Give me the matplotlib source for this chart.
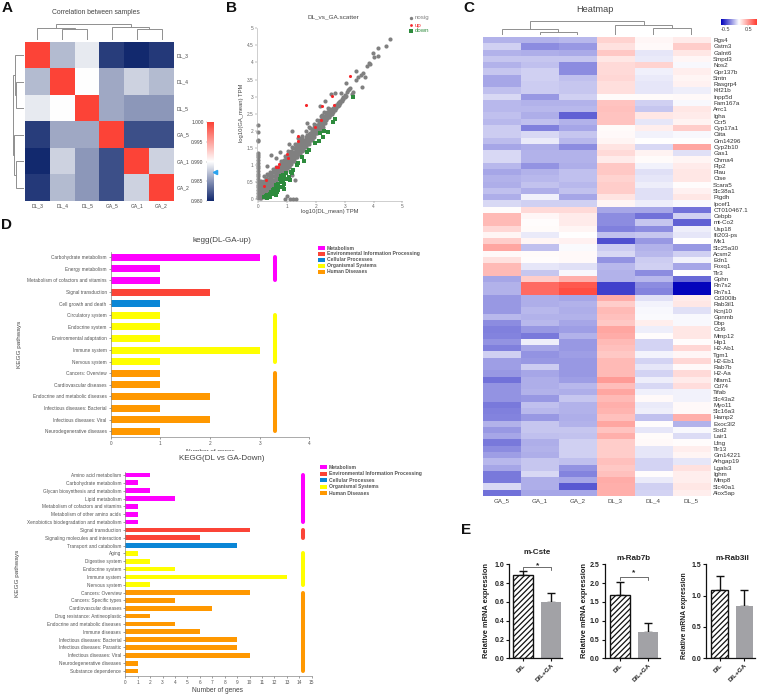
import numpy as np
import matplotlib
matplotlib.use('Agg')
import matplotlib.pyplot as plt
from matplotlib.colors import LinearSegmentedColormap, TwoSlopeNorm
from matplotlib.patches import Rectangle

plt.rcParams['font.family'] = ['Liberation Sans', 'DejaVu Sans']
plt.rcParams['hatch.linewidth'] = 0.9

W, H = 758, 694

# Panel A
corr_labels = ['DL_3', 'DL_4', 'DL_5', 'GA_5', 'GA_1', 'GA_2']
corr = np.array([
    [1.000, 0.9868, 0.9890, 0.9810, 0.9800, 0.9808],
    [0.9868, 1.000, 0.9900, 0.9860, 0.9879, 0.9868],
    [0.9890, 0.9900, 1.000, 0.9860, 0.9852, 0.9852],
    [0.9810, 0.9860, 0.9860, 1.000, 0.9818, 0.9818],
    [0.9800, 0.9879, 0.9852, 0.9818, 1.000, 0.9879],
    [0.9808, 0.9868, 0.9852, 0.9818, 0.9879, 1.000],
])
corr_ticks = [1.000, 0.995, 0.990, 0.985, 0.980]
# (height, left, right) with leaf index at the ends
corr_top_tree = (48, (37, 0, (32, 1, 2)), (40, 3, (32, 4, 5)))
corr_left_tree = (34, (27, 0, (25, 1, 2)), (29, 3, (24, 4, 5)))

# Panel B
axis_y = [0.02, 0.1, 0.18, 0.26, 0.34, 0.42, 0.5, 0.58, 0.66, 0.74, 0.82, 0.9, 0.98, 1.06, 1.14, 1.22, 1.3, 1.36,
          1.7, 1.72, 1.95, 2.16]
low_x = [.05] * 5 + [.1] * 6 + [.15] * 5 + [.2] * 6 + [.25] * 5 + [.3] * 5 + [.35] * 5 + [.4] * 5 + [.45] * 4 + [.5] * 5
low_y = [.04, .14, .26, .38, .5, .02, .12, .24, .36, .46, .54, .08, .2, .3, .42, .5, .06, .16, .28, .4, .52, .68,
         .1, .22, .34, .46, .62, .16, .28, .4, .52, .72, .24, .36, .48, .6, .7, .3, .42, .54, .66, .8,
         .36, .5, .62, .76, .42, .54, .66, .78, .88]
mid_x = [.55, .6, .65, .7, .75, .8, .85, .9, .95, 1.0, 1.05, 1.1, 1.15, 1.2, 1.25, 1.3, 1.35, 1.4, 1.45, 1.5]
mid_y = [[.47, .57, .66, .78], [.52, .62, .72, .84], [.58, .68, .77, .9], [.62, .72, .82, .94], [.68, .78, .88, 1.0],
         [.72, .82, .92, 1.04], [.78, .88, .98, 1.1], [.83, .93, 1.02, 1.14], [.88, .98, 1.08, 1.2],
         [.92, 1.02, 1.12, 1.24], [.98, 1.08, 1.18, 1.3], [1.03, 1.12, 1.22, 1.36], [1.08, 1.18, 1.28, 1.42],
         [1.12, 1.22, 1.32, 1.48], [1.18, 1.28, 1.38, 1.5], [1.22, 1.32, 1.42, 1.58], [1.27, 1.37, 1.48, 1.62],
         [1.32, 1.42, 1.52, 1.68], [1.38, 1.48, 1.58, 1.7], [1.42, 1.52, 1.62, 1.76]]
upper_x = [1.55, 1.6, 1.65, 1.7, 1.75, 1.8, 1.85, 1.9, 1.95, 2.0, 2.05, 2.1, 2.15, 2.2, 2.25, 2.3, 2.35, 2.4, 2.45, 2.5]
upper_y = [[1.47, 1.57, 1.68], [1.52, 1.62, 1.74], [1.57, 1.67, 1.82], [1.62, 1.72, 1.86], [1.67, 1.78, 1.9],
           [1.72, 1.82, 1.94], [1.77, 1.88, 2.0], [1.82, 1.92, 2.05], [1.87, 1.97, 2.1], [1.92, 2.02, 2.14],
           [1.98, 2.08, 2.18], [2.03, 2.12, 2.24], [2.08, 2.18, 2.3], [2.13, 2.22, 2.34], [2.2, 2.28, 2.4],
           [2.24, 2.32, 2.44], [2.3, 2.38, 2.5], [2.36, 2.44, 2.55], [2.4, 2.5, 2.6], [2.46, 2.54, 2.64]]
tail_x = [2.55, 2.55, 2.6, 2.6, 2.65, 2.65, 2.7, 2.7, 2.75, 2.75, 2.8, 2.8, 2.85, 2.85, 2.9, 2.9, 2.95, 2.95, 3.0, 3.0, 3.05]
tail_y = [2.5, 2.6, 2.56, 2.66, 2.62, 2.7, 2.68, 2.74, 2.72, 2.8, 2.76, 2.84, 2.82, 2.88, 2.86, 2.94, 2.92, 3.0, 2.98, 3.04, 3.02]
extra_lo_x = [.55, .65, .75, .85, .95, 1.05, 1.15, 1.25, 1.35, 1.45, 1.55, 1.65, 1.75, 1.85, 1.95, 2.05, 2.15, 2.25]
extra_lo_y = [.38, .48, .6, .7, .82, .93, 1.02, 1.12, 1.22, 1.32, 1.43, 1.52, 1.62, 1.72, 1.82, 1.93, 2.02, 2.12]
extra_hi_x = [.62, .78, .92, 1.03, 1.17, 1.28, 1.42, 1.53, 1.67, 1.78, 1.92, 2.03, 2.17, 2.28, 2.42]
extra_hi_y = [.95, 1.12, 1.25, 1.4, 1.52, 1.6, 1.78, 1.85, 2.0, 2.08, 2.2, 2.3, 2.42, 2.55, 2.68]
out_x = [.43, .6, .3, 1.16, 1.08, .75, 1.39, 1.68, 1.77, 2.14, 2.33, 2.66, 2.52, 2.86, 2.2, 2.37, 3.04, 3.39, 3.65, 3.55,
         3.39, 3.47, 3.7, 3.6, 3.76, 3.84, 3.89, 3.97, 4.14, 4.03, 4.17, 4.42, 4.57, 3.13, 3.2, 3.07, 3.3, 3.24, 3.16,
         1.27, 1.18, .92, 1.0, 1.1, 1.2, 1.32]
out_y = [1.29, 1.19, .97, 2.0, 1.61, 1.39, 1.78, 2.24, 2.12, 2.72, 2.86, 3.11, 3.07, 3.11, 2.46, 2.46, 3.41, 3.75, 3.7, 3.63,
         3.49, 3.56, 3.56, 3.27, 3.91, 3.97, 3.95, 4.27, 4.43, 4.15, 4.19, 4.48, 4.68, 3.19, 3.24, 3.14, 3.14, 3.08, 3.21,
         .56, .7, 0.0, .1, 0.0, 0.0, 0.0]
up_x = [.27, .21, .61, .72, .69, 1.01, 1.04, 1.39, 1.38, 1.64, 2.22, 1.97, 2.18, 2.57, 2.62, 3.18]
up_y = [.56, .39, .95, 1.02, .95, 1.31, 1.19, 1.85, 1.69, 2.75, 2.71, 2.11, 2.31, 3.02, 2.75, 3.61]
down_x = [3.29, 2.67, 2.58, 2.41, 2.27, 2.23, 2.14, 2.12, 1.98, 1.76, 1.68, 1.59, 1.5, 1.39, 1.33, 1.22, 1.16,
          .95, .9, .95, .85, .85, .8, .8, .75, .9, 1.0, 1.05, .7, .65, .6, .6, .55, .5, .5, .45, .4, .4, .35, .3, .3,
          .25, .2, .7, .65, .6, .9, .75, .85, 1.1, 1.15]
down_y = [2.98, 2.33, 2.26, 1.95, 2.0, 1.83, 1.92, 1.71, 1.63, 1.44, 1.39, 1.11, 1.24, 1.04, 1.0, .85, .75,
          .75, .65, .6, .7, .55, .68, .5, .6, .45, .6, .65, .45, .35, .4, .25, .3, .25, .15, .2, .15, .05, .1, .12, .03,
          .08, .05, .25, .2, .13, .3, .35, .35, .55, .8]

# Panel C
gene_names = ['Rgs4', 'Gstm3', 'Galnt6', 'Smpd3', 'Nos2', 'Gpr137b', 'Smtn', 'Rasgrp4', 'Kif21b', 'Inpp5d', 'Fam167a',
              'Arrc1', 'Igha', 'Ccr5', 'Cyp17a1', 'Ciita', 'Gm14296', 'Cyp2b10', 'Gas1', 'Chrna4', 'Plp2', 'Plau', 'Ctse',
              'Scara5', 'Slc38a1', 'Ptgdh', 'Ipcef1', 'CT010467.1', 'Cebpb', 'mt-Co2', 'Usp18', 'Ifi203-ps', 'Mx1',
              'Slc25a30', 'Acsm2', 'Edn1', 'Foxq1', 'Tlr3', 'Gphn', 'Rn7s2', 'Rn7s1', 'Cd300lb', 'Rab3il1', 'Kcnj10',
              'Gpnmb', 'Dbp', 'Ccl6', 'Mmp12', 'Hip1', 'H2-Ab1', 'Tgm1', 'H2-Eb1', 'Rab7b', 'H2-Aa', 'Nfam1', 'Cd74',
              'Tifab', 'Slc43a2', 'Myo11', 'Slc16a3', 'Hamp2', 'Exoc3l2', 'Sod2', 'Lair1', 'Lfng', 'Tlr13', 'Gm14221',
              'Arhgap19', 'Lgals3', 'Ighm', 'Mmp8', 'Slc40a1', 'Alox5ap']
heat_cols = ['GA_5', 'GA_1', 'GA_2', 'DL_3', 'DL_4', 'DL_5']
# percent of the colour range
heat_vals = np.array([
    [-30, -30, -28, 22, 4, 10], [-18, -45, -40, 15, 3, 25], [-30, -32, -33, 28, -10, 12], [-22, -22, -22, 12, -8, 4],
    [-30, -25, -45, 18, 22, -3], [-22, -18, -45, 18, -6, 8], [-35, -18, -25, 20, -8, 5], [-35, -20, -22, 16, -10, 7],
    [-25, -20, -22, 16, -10, -7], [-15, -40, -18, 2, 2, 3], [-28, -30, -30, 30, -18, -3], [-28, -28, -28, 32, -22, 12],
    [-25, -32, -62, 30, 12, 10], [-28, -25, -30, 30, -10, 6], [-20, -50, -35, 2, 8, 25], [-20, -15, -22, 3, -5, -3],
    [-26, -8, -28, 5, 0, 0], [-35, -32, -45, 14, -15, 45], [-15, -30, -30, 18, 6, -12], [-15, -30, -30, 10, 2, 5],
    [-28, -42, -32, 28, -5, 10], [-35, -30, -25, 28, -12, 12], [-30, -28, -25, 22, -10, 12], [-32, -24, -28, 25, -7, 1],
    [-25, -32, -24, 25, -12, 7], [-32, -6, -35, 14, -12, 12], [-15, -18, -18, 5, -7, -3], [1, 18, 18, -35, -35, -55],
    [35, 4, 10, -45, -55, -18], [35, 1, 10, -45, -22, -62], [20, 2, 5, -50, -45, -7], [5, -8, 0, -25, -22, -10],
    [25, 5, 7, -68, -40, 0], [45, -25, -2, -20, -30, -40], [3, 2, 3, -15, -28, -18], [15, 1, 3, -42, -20, -5],
    [35, -10, -12, -28, -18, -35], [35, -22, -3, -30, -45, 0], [-35, 25, 40, -30, -28, -58], [-30, 75, 85, -75, -45, -98],
    [-30, 75, 90, -75, -48, -98], [-40, -32, -35, 42, -12, 10], [-40, -32, -30, 25, -4, 12], [-40, -28, -32, 35, -3, -12],
    [-28, -30, -30, 32, -2, -3], [-45, -28, -35, 28, 8, -3], [-50, -40, -38, 45, -7, 12], [-48, -52, -30, 42, 1, 12],
    [-42, -7, -40, 35, -17, 1], [-50, -35, -40, 32, -17, 20], [-18, -42, -38, 28, -4, 4], [-38, -40, -40, 35, -17, 20],
    [-38, -20, -40, 35, -10, 3], [-40, -35, -40, 35, -17, 18], [-55, -32, -38, 50, -7, 10], [-42, -32, -28, 33, -15, 17],
    [-42, -30, -32, 45, -6, -5], [-42, -40, -22, 35, 3, -5], [-52, -25, -30, 40, -8, 3], [-50, -28, -30, 38, -7, 3],
    [-48, -40, -32, 32, -25, 40], [-30, -22, -30, 45, 1, -30], [-40, -22, -22, 30, -10, -3], [-35, -25, -24, 40, 2, -14],
    [-52, -32, -18, 25, 3, 1], [-45, -30, -18, 25, -10, 8], [-38, -32, -18, 25, -10, 5], [-28, -22, -25, 32, -17, -10],
    [-35, -22, -42, 28, -17, 15], [-52, -15, -48, 32, 1, 8], [-52, -32, -35, 42, -8, 8], [-15, -32, -65, 40, -18, 12],
    [-55, -35, -35, 40, -17, 8],
])
heat_tree = (43, (17, 0, (8, 1, 2)), (30, 3, (20, 4, 5)))

# Panel D
class_names = ['Metabolism', 'Environmental Information Processing', 'Cellular Processes', 'Organismal Systems',
               'Human Diseases']
class_colors = ['#ff00ff', '#fb4437', '#0a86d6', '#ffff00', '#ff9800']
up_paths = ['Carbohydrate metabolism', 'Energy metabolism', 'Metabolism of cofactors and vitamins', 'Signal transduction',
            'Cell growth and death', 'Circulatory system', 'Endocrine system', 'Environmental adaptation',
            'Immune system', 'Nervous system', 'Cancers: Overview', 'Cardiovascular diseases',
            'Endocrine and metabolic diseases', 'Infectious diseases: Bacterial', 'Infectious diseases: Viral',
            'Neurodegenerative diseases']
up_genes = [3, 1, 1, 2, 1, 1, 1, 1, 3, 1, 1, 1, 2, 1, 2, 1]
up_class = [0, 0, 0, 1, 2, 3, 3, 3, 3, 3, 4, 4, 4, 4, 4, 4]
down_paths = ['Amino acid metabolism', 'Carbohydrate metabolism', 'Glycan biosynthesis and metabolism', 'Lipid metabolism',
              'Metabolism of cofactors and vitamins', 'Metabolism of other amino acids',
              'Xenobiotics biodegradation and metabolism', 'Signal transduction', 'Signaling molecules and interaction',
              'Transport and catabolism', 'Aging', 'Digestive system', 'Endocrine system', 'Immune system',
              'Nervous system', 'Cancers: Overview', 'Cancers: Specific types', 'Cardiovascular diseases',
              'Drug resistance: Antineoplastic', 'Endocrine and metabolic diseases', 'Immune diseases',
              'Infectious diseases: Bacterial', 'Infectious diseases: Parasitic', 'Infectious diseases: Viral',
              'Neurodegenerative diseases', 'Substance dependence']
down_genes = [2, 1, 2, 4, 1, 1, 1, 10, 6, 9, 1, 2, 4, 13, 2, 10, 4, 7, 2, 4, 6, 9, 9, 10, 1, 1]
down_class = [0] * 7 + [1, 1, 2] + [3] * 5 + [4] * 11

# Panel E
qpcr_groups = ['D/L', 'D/L+GA']
cste_mean, cste_err = [0.89, 0.60], [0.04, 0.10]
rab7b_mean, rab7b_err = [1.68, 0.70], [0.36, 0.25]
rab3il_mean, rab3il_err = [1.09, 0.84], [0.22, 0.25]

fig = plt.figure(figsize=(W / 100, H / 100), dpi=100)


def px_axes(l, t, r, b):
    return fig.add_axes([l / W, 1 - b / H, (r - l) / W, (b - t) / H])


def px_text(x, y, s, ha='center', **kw):
    kw.setdefault('color', '#444444')
    return fig.text(x / W, 1 - y / H, s, ha=ha, va='center', **kw)


def dendro(ax, node, horizontal=False):
    # returns (leaf position, height) and draws the links below it
    if not isinstance(node, tuple):
        return node + 0.5, 0
    h, left, right = node
    p1, h1 = dendro(ax, left, horizontal)
    p2, h2 = dendro(ax, right, horizontal)
    xs, ys = [p1, p1, p2, p2], [h1, h, h, h2]
    if horizontal:
        xs, ys = ys, xs
    ax.plot(xs, ys, color='#8f8f8f', lw=0.7, solid_joinstyle='miter')
    return (p1 + p2) / 2, h


def tree_axes(l, t, r, b):
    ax = px_axes(l, t, r, b)
    ax.axis('off')
    return ax


# A
corr_cmap = LinearSegmentedColormap.from_list('corr', ['#12296e', '#ffffff', '#fc4337'])
corr_norm = TwoSlopeNorm(vmin=0.98, vcenter=0.99, vmax=1.0)
ax = px_axes(25, 42, 174, 201)
ax.imshow(corr, cmap=corr_cmap, norm=corr_norm, aspect='auto', interpolation='nearest')
ax.set_xticks(range(6), corr_labels, fontsize=3.6, color='#444444')
ax.yaxis.tick_right()
ax.set_yticks(range(6), corr_labels, fontsize=3.6, color='#444444')
ax.tick_params(length=0, pad=2)
for s in ax.spines.values():
    s.set_visible(False)
px_text(96, 13, 'Correlation between samples', fontsize=4.9)

ax = tree_axes(25, 24, 174, 40)
dendro(ax, corr_top_tree)
ax.set_xlim(0, 6)
ax.set_ylim(0, 48)
ax = tree_axes(10.7, 42, 24, 201)
dendro(ax, corr_left_tree, horizontal=True)
ax.set_xlim(40, 0)
ax.set_ylim(6, 0)

ax = px_axes(207, 122, 215, 201)
ax.imshow(np.linspace(1.0, 0.98, 200)[:, None], cmap=corr_cmap, norm=corr_norm, aspect='auto',
          extent=[0, 1, 0.98, 1.0])
ax.set_xticks([])
ax.set_yticks(corr_ticks, ['%.3f' % t for t in corr_ticks], fontsize=3.5, color='#444444')
ax.tick_params(length=1, width=0.3, pad=1.5, color='#888888')
for s in ax.spines.values():
    s.set_visible(False)
ax.plot([1.2], [0.9873], marker='<', ms=3, color='#2aa3ef', clip_on=False)

# B
ax = px_axes(258.3, 28.3, 402.3, 199)
grey_x = np.concatenate([np.zeros(len(axis_y)), low_x, np.repeat(mid_x, 4), np.repeat(upper_x, 3), tail_x,
                         extra_lo_x, extra_hi_x, out_x])
grey_y = np.concatenate([axis_y, low_y, np.ravel(mid_y), np.ravel(upper_y), tail_y, extra_lo_y, extra_hi_y, out_y])
ax.scatter(grey_x, grey_y, s=9, color='#808080', lw=0, clip_on=False, label='nosig')
ax.scatter(down_x, down_y, s=8, marker='s', color='#2e8b3d', lw=0, clip_on=False, zorder=3)
ax.scatter(up_x, up_y, s=5, color='#f5262a', lw=0, clip_on=False, zorder=4)
ax.set_xlim(0, 5)
ax.set_ylim(0, 5)
ax.set_xticks(range(6))
ax.set_yticks(np.arange(0, 5.1, 0.5), ['0', '0.5', '1', '1.5', '2', '2.5', '3', '3.5', '4', '4.5', '5'])
ax.tick_params(labelsize=3.4, length=1.2, width=0.3, pad=1.2, colors='#666666')
for s in ['top', 'right']:
    ax.spines[s].set_visible(False)
for s in ['left', 'bottom']:
    ax.spines[s].set_position(('outward', 1.2))
    ax.spines[s].set_linewidth(0.4)
    ax.spines[s].set_color('#aaaaaa')
px_text(333, 17, 'DL_vs_GA.scatter', fontsize=4.6)
px_text(330, 211, 'log10(DL_mean) TPM', fontsize=4.2)
px_text(241, 113, 'log10(GA_mean) TPM', fontsize=4.2, rotation=90)
leg = fig.add_axes([0, 0, 1, 1])
leg.set_xlim(0, W)
leg.set_ylim(H, 0)
leg.axis('off')
leg.patch.set_alpha(0)
leg.scatter([411], [18], s=6, color='#808080', lw=0)
leg.scatter([411], [25], s=4, color='#f5262a', lw=0)
leg.scatter([411], [31], s=6, marker='s', color='#2e8b3d', lw=0)
px_text(415, 18, 'nosig', ha='left', fontsize=4.4, color='#808080')
px_text(415, 25, 'up', ha='left', fontsize=4.4, color='#f5262a')
px_text(415, 31, 'down', ha='left', fontsize=4.4, color='#2e8b3d')

# C
heat_cmap = LinearSegmentedColormap.from_list('heat', ['#0000bb', '#ffffff', '#ff3b30'])
ax = px_axes(482.7, 37, 710, 496)
ax.imshow(heat_vals, cmap=heat_cmap, vmin=-100, vmax=100, aspect='auto', interpolation='nearest')
ax.set_xticks(range(6), heat_cols, fontsize=4.5, color='#444444')
ax.yaxis.tick_right()
ax.set_yticks(range(len(gene_names)), gene_names, fontsize=4.5, color='#333333')
ax.tick_params(length=0, pad=2.3)
ax.tick_params(axis='x', pad=1.5)
for s in ax.spines.values():
    s.set_visible(False)
px_text(595, 10, 'Heatmap', fontsize=6.6)
ax = tree_axes(482.7, 20.5, 710, 35)
dendro(ax, heat_tree)
ax.set_xlim(0, 6)
ax.set_ylim(0, 43)
ax = px_axes(720.7, 19, 756.7, 25)
ax.imshow(np.linspace(-100, 100, 200)[None, :], cmap=heat_cmap, vmin=-100, vmax=100, aspect='auto',
          extent=[-0.69, 0.87, 0, 1])
ax.set_yticks([])
ax.set_xticks([-0.5, 0.5], ['-0.5', '0.5'], fontsize=4, color='#444444')
ax.tick_params(length=1, width=0.3, pad=0.5, color='#888888')
for s in ax.spines.values():
    s.set_visible(False)


# D
def kegg_panel(box, names, genes, classes, xmax, xticks, ylim, strip_x, fs):
    ax = px_axes(*box)
    y = np.arange(len(names))
    ax.barh(y, genes, height=0.6, color=[class_colors[c] for c in classes])
    for c in sorted(set(classes)):
        rows = y[np.array(classes) == c]
        ax.plot([strip_x, strip_x], [rows[0], rows[-1]], color=class_colors[c], lw=2.9, solid_capstyle='round')
    ax.set_xlim(0, xmax)
    ax.set_ylim(*ylim)
    ax.set_xticks(xticks)
    ax.set_yticks(y, names)
    ax.tick_params(labelsize=fs, length=1.5, width=0.4, pad=1.5, colors='#555555')
    for s in ['top', 'right']:
        ax.spines[s].set_visible(False)
    for s in ['left', 'bottom']:
        ax.spines[s].set_linewidth(0.5)
        ax.spines[s].set_color('#888888')


def kegg_legend(x, ys):
    for c, yy in enumerate(ys):
        leg.add_patch(Rectangle((x, yy - 2), 7, 4, color=class_colors[c], lw=0))
        px_text(x + 9, yy, class_names[c], ha='left', fontsize=3.6, fontweight='bold', color='#555555')


kegg_panel((110.7, 251.7, 309.3, 437.3), up_paths, up_genes, up_class, 4, range(5), (15.52, -0.48), 3.31, 3.4)
px_text(222, 240, 'kegg(DL-GA-up)', fontsize=5.8)
px_text(19, 344, 'KEGG pathways', fontsize=4.6, rotation=90)
px_text(210, 451, 'Number of genes', fontsize=4.6)
kegg_legend(318, [248, 253.7, 259.7, 265.7, 271.7])
fig.add_artist(Rectangle((100 / W, 1 - 454.5 / H), 240 / W, 3.2 / H, transform=fig.transFigure, color='white', lw=0,
                         zorder=10))

kegg_panel((125.3, 472, 311.7, 675.7), down_paths, down_genes, down_class, 15, range(16), (25.6, -0.38), 14.3, 3.4)
px_text(222, 459, 'KEGG(DL vs GA-Down)', fontsize=5.8, zorder=11)
px_text(17, 573, 'KEGG pathways', fontsize=4.6, rotation=90)
px_text(218, 690, 'Number of genes', fontsize=4.8)
kegg_legend(320, [467.3, 473.7, 480.3, 486.7, 493.3])


# E
def qpcr_panel(l, r, xlim, means, errs, ymax, yticks, fmt):
    ax = px_axes(l, 564.3, r, 658.3)
    ax.bar(0, means[0], width=0.7, facecolor='white', edgecolor='#111111', hatch='//////', lw=1)
    ax.bar(1, means[1], width=0.7, color='#a2a2a6', lw=0)
    ax.errorbar([0], [means[0]], yerr=[[0], [errs[0]]], color='#111111', lw=1, capsize=2.6, capthick=1, zorder=0)
    ax.errorbar([1], [means[1]], yerr=[[0], [errs[1]]], color='#111111', lw=1, capsize=2.6, capthick=1, zorder=0)
    ax.set_xlim(*xlim)
    ax.set_ylim(0, ymax)
    ax.set_yticks(yticks, [fmt % t for t in yticks], fontsize=5, fontweight='bold')
    ax.set_xticks([0, 1], qpcr_groups, fontsize=4.6, fontweight='bold', rotation=45, ha='right', rotation_mode='anchor')
    ax.tick_params(length=2.4, width=0.8, pad=1, color='#111111', labelcolor='#222222')
    for s in ['top', 'right']:
        ax.spines[s].set_visible(False)
    for s in ['left', 'bottom']:
        ax.spines[s].set_linewidth(0.9)
        ax.spines[s].set_color('#111111')
    return ax


ax = qpcr_panel(509.3, 562, (-0.48, 1.37), cste_mean, cste_err, 1.0, [0, 0.2, 0.4, 0.6, 0.8, 1.0], '%.1f')
ax.plot([0, 0, 1, 1], [0.94, 0.975, 0.975, 0.94], color='#333333', lw=0.5, clip_on=False)
ax.text(0.5, 0.985, '*', ha='center', va='center', fontsize=6, fontweight='bold', color='#222222')
ax = qpcr_panel(604.5, 660, (-0.53, 1.42), rab7b_mean, rab7b_err, 2.5, [0, 0.5, 1.0, 1.5, 2.0, 2.5], '%.1f')
ax.plot([0, 0, 1, 1], [2.08, 2.17, 2.17, 2.08], color='#333333', lw=0.5)
ax.text(0.5, 2.27, '*', ha='center', va='center', fontsize=6, fontweight='bold', color='#222222')
ax = qpcr_panel(706, 755, (-0.544, 1.43), rab3il_mean, rab3il_err, 1.5, [0, 0.5, 1.0, 1.5], '%.1f')
for x, y, s, fs in [(486, 611, 'Relative mRNA expression', 5.4), (584, 611, 'Relative mRNA expression', 5.4),
                    (685, 616, 'Relative mRNA expression', 4.9)]:
    px_text(x, y, s, fontsize=fs, fontweight='bold', rotation=90, color='#222222')
for x, y, s in [(537, 553, 'm-Cste'), (634, 559, 'm-Rab7b'), (732, 558, 'm-Rab3il')]:
    px_text(x, y, s, fontsize=5.8, fontweight='bold', color='#222222')

# panel letters
for x, y, s in [(7, 8, 'A'), (231, 8, 'B'), (468.5, 8, 'C'), (7, 225, 'D'), (466, 530, 'E')]:
    px_text(x, y, s, fontsize=11, fontweight='bold', color='#111111')

fig.savefig('out.png', dpi=100)
